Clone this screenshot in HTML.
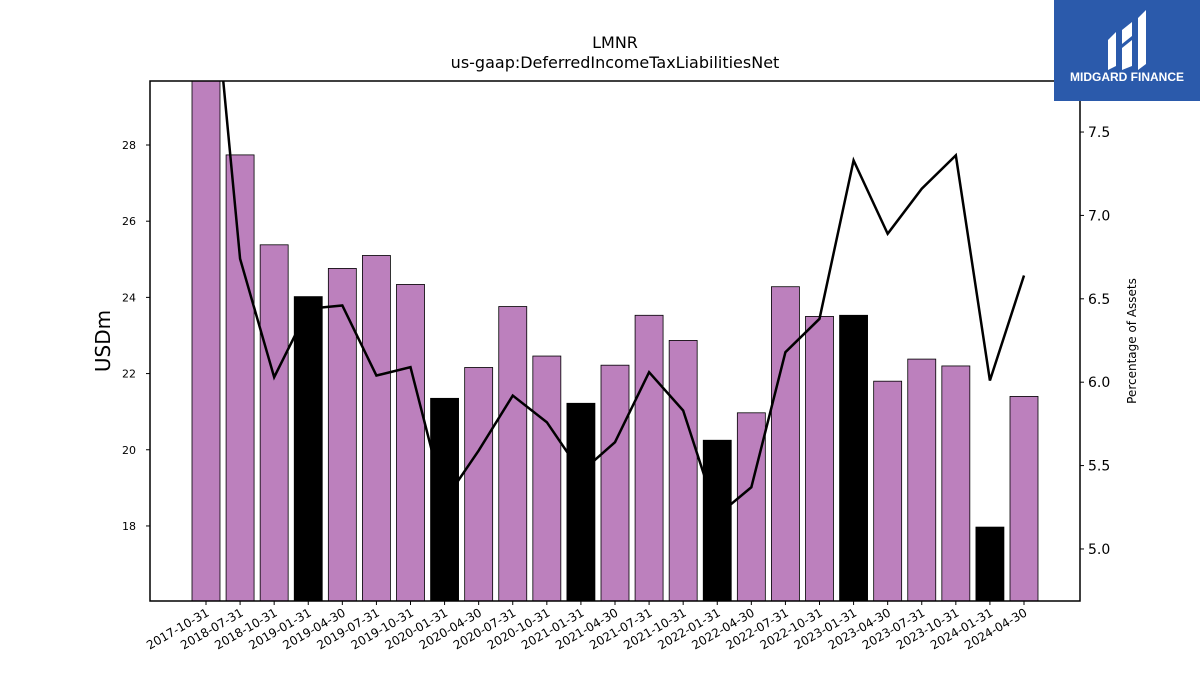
<!DOCTYPE html>
<html><head><meta charset="utf-8"><style>
body{margin:0;background:#fff;font-family:"Liberation Sans","DejaVu Sans",sans-serif}
svg{display:block}
</style></head><body>
<svg id="chart" width="1200" height="675" xmlns="http://www.w3.org/2000/svg" font-family="DejaVu Sans, Liberation Sans, sans-serif">
<text x="615" y="48" text-anchor="middle" font-size="16">LMNR</text>
<text x="615" y="68" text-anchor="middle" font-size="16">us-gaap:DeferredIncomeTaxLiabilitiesNet</text>
<g id="bars"></g>
<g id="line"></g>
<rect x="150" y="81" width="930" height="520" fill="none" stroke="#000" stroke-width="1.5"/>
<g id="axes"></g>
<text transform="translate(110,341) rotate(-90)" text-anchor="middle" font-size="20">USDm</text>
<text transform="translate(1136,341) rotate(-90)" text-anchor="middle" font-size="12">Percentage of Assets</text>
<g>
<rect x="1054" y="0" width="146" height="101" fill="#2b5aab"/>
<path d="M1108 40 L1116 32 L1116 66 L1108 70 Z M1122 30 L1132 22 L1132 36 L1122 44 Z M1122 48 L1132 40 L1132 66 L1122 70 Z M1138 18 L1146 10 L1146 64 L1138 70 Z" fill="#fff"/>
<text x="1127" y="81" text-anchor="middle" font-size="12" font-weight="bold" fill="#fff" font-family="Liberation Sans, sans-serif">MIDGARD FINANCE</text>
</g>
</svg>
<script>
const categories=["2017-10-31","2018-07-31","2018-10-31","2019-01-31","2019-04-30","2019-07-31","2019-10-31","2020-01-31","2020-04-30","2020-07-31","2020-10-31","2021-01-31","2021-04-30","2021-07-31","2021-10-31","2022-01-31","2022-04-30","2022-07-31","2022-10-31","2023-01-31","2023-04-30","2023-07-31","2023-10-31","2024-01-31","2024-04-30"];
const barValues=[30.5,27.74,25.38,24.02,24.76,25.1,24.34,21.35,22.16,23.76,22.46,21.22,22.22,23.53,22.87,20.25,20.97,24.28,23.5,23.53,21.8,22.38,22.2,17.97,21.4];
const isQ1=[false,false,false,true,false,false,false,true,false,false,false,true,false,false,false,true,false,false,false,true,false,false,false,true,false];
const pctValues=[8.9,6.74,6.03,6.44,6.46,6.04,6.09,5.29,5.59,5.92,5.76,5.46,5.64,6.06,5.83,5.2,5.37,6.18,6.38,7.33,6.89,7.16,7.36,6.01,6.64];
const leftTicks=[18,20,22,24,26,28];
const rightTicks=[5.0,5.5,6.0,6.5,7.0,7.5];
const NS="http://www.w3.org/2000/svg";
const X0=150,X1=1080,Y0=81,Y1=601;
const yL=v=>Y1-(v-16.03)/(29.68-16.03)*(Y1-Y0);
const yR=v=>Y1-(v-4.688)/(7.806-4.688)*(Y1-Y0);
const xC=i=>206+i*(1024-206)/(categories.length-1);
function mk(t,a,p){const e=document.createElementNS(NS,t);for(const k in a)e.setAttribute(k,a[k]);p.appendChild(e);return e;}
const bars=document.getElementById('bars'),line=document.getElementById('line'),axes=document.getElementById('axes');
const bw=28;
barValues.forEach((v,i)=>{
  const top=Math.max(Y0,yL(v));
  const r=mk('rect',{x:xC(i)-bw/2,y:top,width:bw,height:Y1-top,fill:isQ1[i]?'#000':'#bc80bd',stroke:'#000','stroke-width':0.8},bars);
  
  
});
const cp=mk('clipPath',{id:'clip'},line);mk('rect',{x:X0,y:Y0,width:X1-X0,height:Y1-Y0},cp);
const pl=mk('polyline',{points:pctValues.map((v,i)=>xC(i)+','+yR(v)).join(' '),fill:'none',stroke:'#000','stroke-width':2.5,'clip-path':'url(#clip)'},line);


leftTicks.forEach(t=>{const y=yL(t);mk('line',{x1:X0-4,x2:X0,y1:y,y2:y,stroke:'#000'},axes);
  const tx=mk('text',{x:X0-14,y:y+4,'text-anchor':'end','font-size':11},axes);tx.textContent=t;
  
  });
rightTicks.forEach(t=>{const y=yR(t);mk('line',{x1:X1,x2:X1+4,y1:y,y2:y,stroke:'#000'},axes);
  const tx=mk('text',{x:X1+8,y:y+5,'font-size':14},axes);tx.textContent=t.toFixed(1);
  
  });
categories.forEach((c,i)=>{const x=xC(i);mk('line',{x1:x,x2:x,y1:Y1,y2:Y1+4,stroke:'#000'},axes);
  const tx=mk('text',{transform:`translate(${x+4},${Y1+14}) rotate(-30)`,'text-anchor':'end','font-size':12},axes);tx.textContent=c;
  
  });
</script>
</body></html>
